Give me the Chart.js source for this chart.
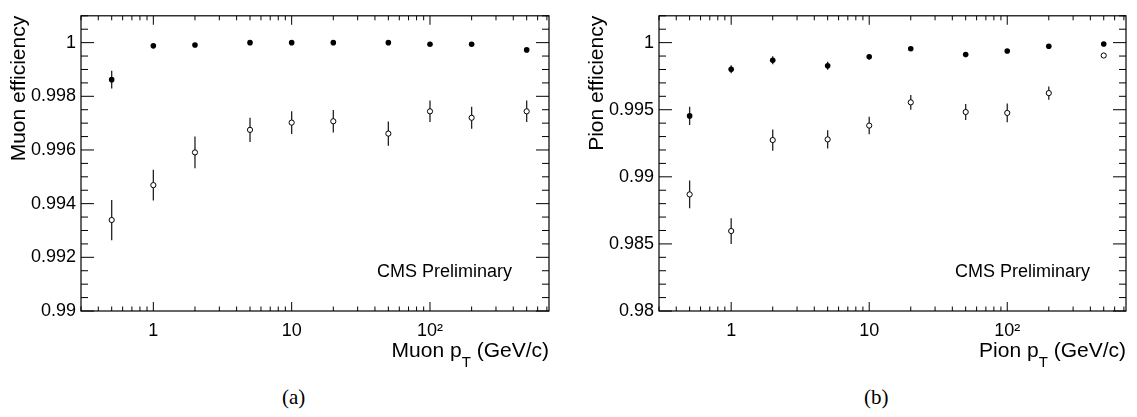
<!DOCTYPE html>
<html>
<head>
<meta charset="utf-8">
<script src="https://cdn.jsdelivr.net/npm/chart.js@4.4.1/dist/chart.umd.min.js"></script>
<style>
  body { margin: 0; background: #fff; width: 1137px; height: 417px; position: relative; overflow: hidden; }
  canvas { position: absolute; top: 0; }
  .caption { position: absolute; top: 387px; font-family: "Liberation Serif", "Times New Roman", serif; font-size: 21px; line-height: 1; }
</style>
</head>
<body>
<canvas id="muonChart" width="560" height="375" style="left:0"></canvas>
<canvas id="pionChart" width="559" height="375" style="left:578px"></canvas>
<div class="caption" style="left:282px">(a)</div>
<div class="caption" style="left:864px">(b)</div>
<script>
// pT bin centres (GeV/c), same for both panels
const ptBins = [0.5, 1, 2, 5, 10, 20, 50, 100, 200, 500];

// (a) muons: filled and open markers
const muonFilled    = [0.99862, 0.99988, 0.99991, 1.00000, 1.00000, 1.00000, 1.00000, 0.99994, 0.99994, 0.99973];
const muonFilledErr = [0.00033, 0.00004, 0.00003, 0.00002, 0.00002, 0.00002, 0.00002, 0.00003, 0.00003, 0.00006];
const muonOpen      = [0.99339, 0.99469, 0.99591, 0.99675, 0.99702, 0.99707, 0.99661, 0.99744, 0.99720, 0.99744];
const muonOpenErr   = [0.00075, 0.00057, 0.00059, 0.00045, 0.00042, 0.00042, 0.00045, 0.00040, 0.00041, 0.00040];

// (b) pions
const pionFilled    = [0.99454, 0.99801, 0.99868, 0.99828, 0.99894, 0.99954, 0.99911, 0.99938, 0.99973, 0.99990];
const pionFilledErr = [0.00068, 0.00030, 0.00030, 0.00030, 0.00020, 0.00010, 0.00010, 0.00010, 0.00010, 0.00010];
const pionOpen      = [0.98869, 0.98596, 0.99274, 0.99279, 0.99382, 0.99555, 0.99483, 0.99476, 0.99624, 0.99904];
const pionOpenErr   = [0.00103, 0.00096, 0.00079, 0.00068, 0.00065, 0.00055, 0.00060, 0.00070, 0.00050, 0.00010];

// tick labels
const xTickValues = [1, 10, 100];
const xTickLabels = ['1', '10', '10\u00B2'];
const muonYTicks = [0.99, 0.992, 0.994, 0.996, 0.998, 1];
const pionYTicks = [0.98, 0.985, 0.99, 0.995, 1];

const SANS = '"Liberation Sans", Arial, Helvetica, sans-serif';

function points(ys) {
    return ptBins.map((x, i) => ({ x: x, y: ys[i] }));
}

// vertical error bars, drawn under the markers
const errorBars = {
    id: 'errorBars',
    beforeDatasetsDraw(chart) {
        const { ctx, chartArea: a, scales: { x, y } } = chart;
        ctx.save();
        ctx.beginPath();
        ctx.rect(a.left, a.top, a.right - a.left, a.bottom - a.top);
        ctx.clip();
        ctx.strokeStyle = '#222';
        ctx.lineWidth = 1.3;
        chart.data.datasets.forEach(ds => {
            if (!ds.yErr) return;
            ds.data.forEach((p, i) => {
                const px = x.getPixelForValue(p.x);
                ctx.beginPath();
                ctx.moveTo(px, y.getPixelForValue(p.y - ds.yErr[i]));
                ctx.lineTo(px, y.getPixelForValue(p.y + ds.yErr[i]));
                ctx.stroke();
            });
        });
        ctx.restore();
    }
};

// ROOT style frame: box, inward ticks on all four sides, x title with subscript, label
const rootFrame = {
    id: 'rootFrame',
    afterDraw(chart, args, opts) {
        const { ctx, chartArea: a, scales: { x, y } } = chart;
        ctx.save();
        ctx.strokeStyle = '#000';
        ctx.lineWidth = 1.2;
        ctx.strokeRect(a.left, a.top, a.right - a.left, a.bottom - a.top);

        ctx.lineWidth = 1;
        ctx.beginPath();
        for (let d = 0.1; d < x.max; d *= 10) {
            for (let k = 1; k <= 9; k++) {
                const v = k * d;
                if (v < x.min || v > x.max) continue;
                const px = x.getPixelForValue(v);
                const len = k === 1 ? 9 : 4.5;
                ctx.moveTo(px, a.bottom); ctx.lineTo(px, a.bottom - len);
                ctx.moveTo(px, a.top); ctx.lineTo(px, a.top + len);
            }
        }
        const n = Math.round((y.max - y.min) / opts.minorStep);
        for (let i = 0; i <= n; i++) {
            const py = y.getPixelForValue(y.min + i * opts.minorStep);
            const len = i % opts.perMajor === 0 ? 13 : 7;
            ctx.moveTo(a.left, py); ctx.lineTo(a.left + len, py);
            ctx.moveTo(a.right, py); ctx.lineTo(a.right - len, py);
        }
        ctx.stroke();

        // x title, right aligned: "<name> p_T (GeV/c)"
        ctx.fillStyle = '#000';
        ctx.textBaseline = 'alphabetic';
        const big = '21px ' + SANS, small = '15px ' + SANS;
        const [pre, sub, post] = opts.xTitle;
        ctx.font = big;
        const wPost = ctx.measureText(post).width;
        const wPre = ctx.measureText(pre).width;
        ctx.font = small;
        const wSub = ctx.measureText(sub).width;
        const base = a.bottom + 46;
        let tx = a.right - wPost - wSub - wPre;
        ctx.font = big;
        ctx.fillText(pre, tx, base);
        tx += wPre;
        ctx.font = small;
        ctx.fillText(sub, tx, base + 10);
        tx += wSub;
        ctx.font = big;
        ctx.fillText(post, tx, base);

        ctx.font = '18px ' + SANS;
        ctx.fillText('CMS Preliminary', a.left + 296, a.bottom - 34);
        ctx.restore();
    }
};

function makeChart(id, filled, filledErr, open, openErr, yMin, yMax, yTicks, yTitle, frameOpts) {
    return new Chart(document.getElementById(id), {
        type: 'scatter',
        data: {
            datasets: [
                {
                    label: 'open',
                    data: points(open),
                    yErr: openErr,
                    pointStyle: 'circle',
                    pointRadius: 2.6,
                    pointBorderWidth: 1,
                    borderColor: '#000',
                    backgroundColor: '#fff'
                },
                {
                    label: 'filled',
                    data: points(filled),
                    yErr: filledErr,
                    pointStyle: 'circle',
                    pointRadius: 2.8,
                    pointBorderWidth: 0,
                    borderColor: '#000',
                    backgroundColor: '#000'
                }
            ]
        },
        options: {
            responsive: false,
            animation: false,
            layout: { padding: { top: 4, right: 11, left: 0, bottom: 0 } },
            plugins: {
                legend: { display: false },
                tooltip: { enabled: false },
                rootFrame: frameOpts
            },
            scales: {
                x: {
                    type: 'logarithmic',
                    min: 0.3,
                    max: 725,
                    grid: { display: false, drawTicks: false },
                    border: { display: false },
                    afterBuildTicks: s => { s.ticks = xTickValues.map(v => ({ value: v })); },
                    afterFit: s => { s.height = 64; },
                    ticks: {
                        autoSkip: false,
                        maxRotation: 0,
                        padding: 9,
                        color: '#000',
                        font: { family: SANS, size: 18 },
                        callback: (v, i) => xTickLabels[i]
                    }
                },
                y: {
                    min: yMin,
                    max: yMax,
                    grid: { display: false, drawTicks: false },
                    border: { display: false },
                    afterBuildTicks: s => { s.ticks = yTicks.map(v => ({ value: v })); },
                    afterFit: s => { s.width = 81; },
                    ticks: {
                        autoSkip: false,
                        padding: 5,
                        color: '#000',
                        font: { family: SANS, size: 18 },
                        callback: v => String(Number(v.toFixed(4)))
                    },
                    title: {
                        display: true,
                        text: yTitle,
                        align: 'end',
                        color: '#000',
                        font: { family: SANS, size: 21 },
                        padding: { top: 7 }
                    }
                }
            }
        },
        plugins: [errorBars, rootFrame]
    });
}

makeChart('muonChart', muonFilled, muonFilledErr, muonOpen, muonOpenErr,
    0.99, 1.001, muonYTicks, 'Muon efficiency',
    { minorStep: 0.0005, perMajor: 4, xTitle: ['Muon p', 'T', ' (GeV/c)'] });

makeChart('pionChart', pionFilled, pionFilledErr, pionOpen, pionOpenErr,
    0.98, 1.002, pionYTicks, 'Pion efficiency',
    { minorStep: 0.001, perMajor: 5, xTitle: ['Pion p', 'T', ' (GeV/c)'] });
</script>
</body>
</html>
